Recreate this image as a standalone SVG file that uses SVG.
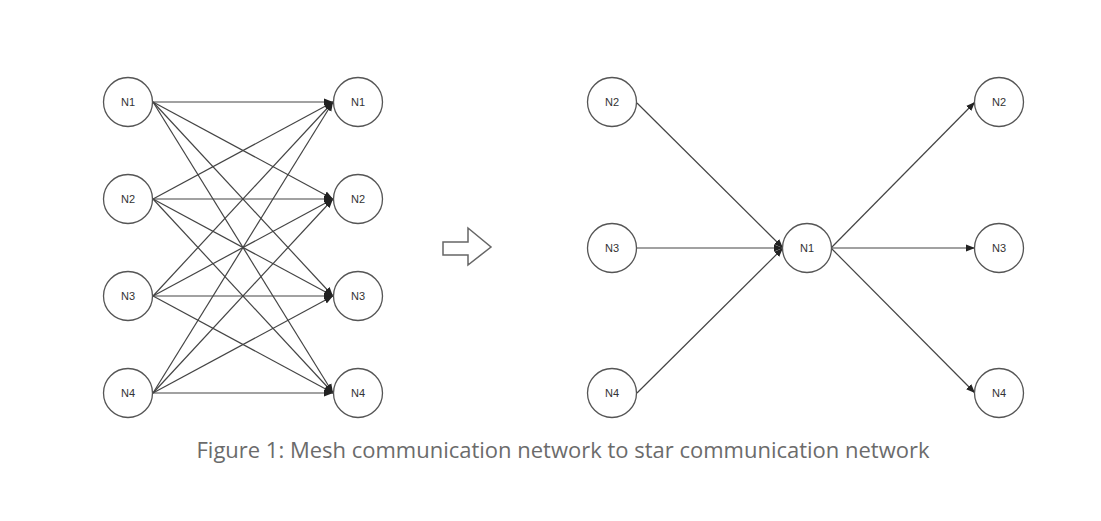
<svg xmlns="http://www.w3.org/2000/svg" width="1101" height="521" viewBox="0 0 1101 521">
<style>
.n circle{fill:#fff;stroke:#555;stroke-width:1.3}
.n text{font-family:"Liberation Sans",Arial,sans-serif;font-size:11px;fill:#333;text-anchor:middle;dominant-baseline:central}
.c line{stroke:#444;stroke-width:1.2;marker-end:url(#ah)}
.cap{font-family:"Open Sans",sans-serif;font-size:21px;fill:#6b6b6b;text-anchor:middle}
</style>
<defs>
<marker id="ah" viewBox="0 0 10 10" refX="10" refY="5" markerWidth="9" markerHeight="9" markerUnits="userSpaceOnUse" orient="auto">
<path d="M0,1 L10,5 L0,9 Z" fill="#222"/>
</marker>
</defs>
<rect width="1101" height="521" fill="#fff"/>
<g class="c" id="mesh-connectors">
<line x1="153" y1="102" x2="333" y2="102"/><line x1="153" y1="102" x2="333" y2="199"/><line x1="153" y1="102" x2="333" y2="296"/><line x1="153" y1="102" x2="333" y2="393"/>
<line x1="153" y1="199" x2="333" y2="102"/><line x1="153" y1="199" x2="333" y2="199"/><line x1="153" y1="199" x2="333" y2="296"/><line x1="153" y1="199" x2="333" y2="393"/>
<line x1="153" y1="296" x2="333" y2="102"/><line x1="153" y1="296" x2="333" y2="199"/><line x1="153" y1="296" x2="333" y2="296"/><line x1="153" y1="296" x2="333" y2="393"/>
<line x1="153" y1="393" x2="333" y2="102"/><line x1="153" y1="393" x2="333" y2="199"/><line x1="153" y1="393" x2="333" y2="296"/><line x1="153" y1="393" x2="333" y2="393"/>
</g>
<g class="c" id="star-connectors">
<line x1="637" y1="103" x2="783" y2="248"/><line x1="637" y1="248" x2="783" y2="248"/><line x1="637" y1="393" x2="783" y2="248"/>
<line x1="831" y1="248" x2="975" y2="102"/><line x1="831" y1="248" x2="975" y2="248"/><line x1="831" y1="248" x2="975" y2="393"/>
</g>
<g class="n" id="mesh-l-n1"><circle cx="128" cy="102" r="24.5"/><text x="128" y="102">N1</text></g>
<g class="n" id="mesh-l-n2"><circle cx="128" cy="199" r="24.5"/><text x="128" y="199">N2</text></g>
<g class="n" id="mesh-l-n3"><circle cx="128" cy="296" r="24.5"/><text x="128" y="296">N3</text></g>
<g class="n" id="mesh-l-n4"><circle cx="128" cy="393" r="24.5"/><text x="128" y="393">N4</text></g>
<g class="n" id="mesh-r-n1"><circle cx="358" cy="102" r="24.5"/><text x="358" y="102">N1</text></g>
<g class="n" id="mesh-r-n2"><circle cx="358" cy="199" r="24.5"/><text x="358" y="199">N2</text></g>
<g class="n" id="mesh-r-n3"><circle cx="358" cy="296" r="24.5"/><text x="358" y="296">N3</text></g>
<g class="n" id="mesh-r-n4"><circle cx="358" cy="393" r="24.5"/><text x="358" y="393">N4</text></g>
<g class="n" id="star-l-n2"><circle cx="612" cy="102" r="24.5"/><text x="612" y="102">N2</text></g>
<g class="n" id="star-l-n3"><circle cx="612" cy="248" r="24.5"/><text x="612" y="248">N3</text></g>
<g class="n" id="star-l-n4"><circle cx="612" cy="393" r="24.5"/><text x="612" y="393">N4</text></g>
<g class="n" id="star-c-n1"><circle cx="807" cy="248" r="24.5"/><text x="807" y="248">N1</text></g>
<g class="n" id="star-r-n2"><circle cx="999" cy="102" r="24.5"/><text x="999" y="102">N2</text></g>
<g class="n" id="star-r-n3"><circle cx="999" cy="248" r="24.5"/><text x="999" y="248">N3</text></g>
<g class="n" id="star-r-n4"><circle cx="999" cy="393" r="24.5"/><text x="999" y="393">N4</text></g>
<g id="transform-arrow"><path d="M443,242 L468,242 L468,228 L491,247 L468,265 L468,255 L443,255 Z" fill="#fff" stroke="#666" stroke-width="1.5" stroke-linejoin="miter"/></g>
<text class="cap" x="563" y="458" textLength="733" lengthAdjust="spacingAndGlyphs">Figure 1: Mesh communication network to star communication network</text>
</svg>
